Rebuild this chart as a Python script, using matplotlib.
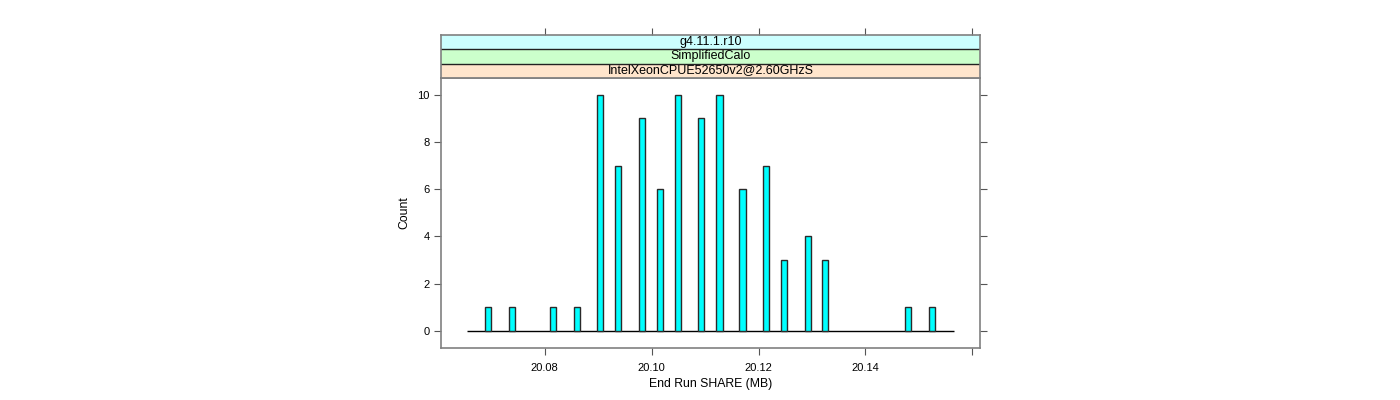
import numpy as np
import matplotlib.pyplot as plt
from matplotlib.patches import Rectangle

plt.rcParams['font.family'] = ['Liberation Sans', 'DejaVu Sans']

# bar centres (MB) and counts
share_mb = [20.0694, 20.0739, 20.0816, 20.0860, 20.0903, 20.0937, 20.0982,
            20.1016, 20.1050, 20.1093, 20.1127, 20.1170, 20.1214, 20.1248,
            20.1292, 20.1325, 20.1480, 20.1525]
counts = [1, 1, 1, 1, 10, 7, 9, 6, 10, 9, 10, 6, 7, 3, 4, 3, 1, 1]
hist_range = [20.0655, 20.1566]

strip_labels = ['IntelXeonCPUE52650v2@2.60GHzS', 'SimplifiedCalo', 'g4.11.1.r10']
strip_colors = ['#ffe5cc', '#ccffcc', '#ccffff']

xticks = [20.08, 20.10, 20.12, 20.14, 20.16]
xticklabels = ['20.08', '20.10', '20.12', '20.14', '']
yticks = [0, 2, 4, 6, 8, 10]

W, H = 1400, 400
fig = plt.figure(figsize=(14, 4), dpi=100)

# panel box in pixels
left, right, top, bottom = 440.5, 980.3, 78, 347.5
ax = fig.add_axes([left / W, 1 - bottom / H, (right - left) / W, (bottom - top) / H])
xlim = (20.0605, 20.1615)
ax.set_xlim(*xlim)
ax.set_ylim(-0.70, 10.71)

ax.hlines(0, hist_range[0], hist_range[1], color='black', lw=1, zorder=1)
ax.bar(share_mb, counts, width=0.00116, color='#00ffff', edgecolor='#2a2a2a',
       linewidth=1, zorder=2)

frame_col = '#808080'
for s in ax.spines.values():
    s.set_color(frame_col)
    s.set_linewidth(1.2)

ax.set_yticks(yticks)
ax.set_xticks(xticks)
ax.set_xticklabels(xticklabels)
ax.tick_params(axis='y', left=True, right=True, labelleft=True, labelright=False,
               direction='out', length=5, color='#555555', labelsize=8, pad=3)
ax.tick_params(axis='x', bottom=True, top=False, direction='out', length=5,
               color='#555555', labelsize=8, pad=6)
ax.set_xlabel('End Run SHARE (MB)', fontsize=8.8, labelpad=4)
ax.set_ylabel('Count', fontsize=8.8, labelpad=5)

# strips
strip_top = 34.7
sax = fig.add_axes([left / W, 1 - top / H, (right - left) / W, (top - strip_top) / H])
sax.set_xlim(*xlim)
sax.set_ylim(0, 3)
for i, (lab, col) in enumerate(zip(strip_labels, strip_colors)):
    sax.add_patch(Rectangle((xlim[0], i), xlim[1] - xlim[0], 1, facecolor=col,
                            edgecolor='none', zorder=1))
    sax.text(np.mean(xlim), i + 0.52, lab, ha='center', va='center', fontsize=9)
    if i > 0:
        sax.axhline(i, color='#222222', lw=1, zorder=2)
sax.axhline(0, color='#222222', lw=1, zorder=2)
for s in sax.spines.values():
    s.set_color(frame_col)
    s.set_linewidth(1.2)
sax.set_yticks([])
sax.set_xticks(xticks)
sax.tick_params(axis='x', bottom=False, top=True, labelbottom=False, labeltop=False,
                direction='out', length=5, color='#555555')

fig.savefig('out.png', dpi=100)
